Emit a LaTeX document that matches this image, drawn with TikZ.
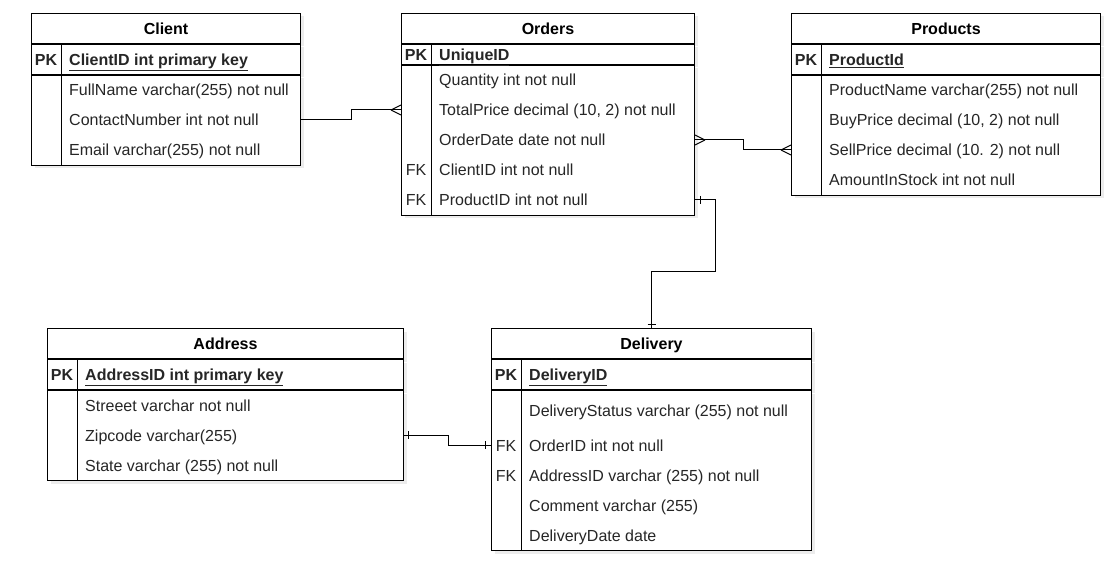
\documentclass[tikz,border=0pt]{standalone}
\usepackage{fontspec}
\setmainfont{Liberation Sans}
\usepackage{tikz}
\usetikzlibrary{positioning, shadows}
\tikzstyle{tbl} = [rectangle, draw=black, fill=white, line width=1pt, inner sep=0pt, anchor=north west, drop shadow={opacity=0.15, shadow xshift=3pt, shadow yshift=-3pt}]
\tikzstyle{tbltitle} = [tbl, minimum height=30pt, font=\bfseries, text height=13.5pt, text depth=1.5pt]
\tikzstyle{keytxt} = [inner sep=0pt, text=black!85, text height=13.5pt, text depth=1.5pt]
\tikzstyle{fieldtxt} = [anchor=west, inner xsep=8pt, inner ysep=0pt, text=black!85, text height=13.5pt, text depth=1.5pt]
\tikzstyle{link} = [line width=1pt]

\begin{document}
\fontsize{16}{19}\selectfont
\begin{tikzpicture}[x=1pt, y=-1pt]
\useasboundingbox (0,0) rectangle (1113,561);

% Client
\node (cliT) [tbltitle, minimum width=269pt] at (31,13) {Client};
\node (cliPK) [tbl, minimum width=269pt, minimum height=30pt, below=0pt of cliT] {};
\node (cli) [tbl, minimum width=269pt, minimum height=90pt, below=0pt of cliPK] {};
\draw [link] ([xshift=30pt]cliPK.north west) -- ([xshift=30pt]cli.south west);
\node [keytxt] at ([xshift=15pt]cliPK.west) {\textbf{PK}};
\node [fieldtxt] at ([xshift=30pt]cliPK.west) {\underline{\textbf{ClientID int primary key}}};
\foreach \f [count=\i] in {FullName varchar(255) not null, ContactNumber int not null, Email varchar(255) not null}
  \node (cli\i) [fieldtxt] at ([xshift=30pt, yshift={15pt-30pt*\i}]cli.north west) {\f};

% Orders
\node (ordT) [tbltitle, minimum width=293pt] at (401,13) {Orders};
\node (ordPK) [tbl, minimum width=293pt, minimum height=20pt, below=0pt of ordT] {};
\node (ord) [tbl, minimum width=293pt, minimum height=150pt, below=0pt of ordPK] {};
\draw [link] ([xshift=30pt]ordPK.north west) -- ([xshift=30pt]ord.south west);
\node [keytxt] at ([xshift=15pt]ordPK.west) {\textbf{PK}};
\node [fieldtxt] at ([xshift=30pt]ordPK.west) {\underline{\textbf{UniqueID}}};
\foreach \f [count=\i] in {Quantity int not null, {TotalPrice decimal (10, 2) not null}, OrderDate date not null, ClientID int not null, ProductID int not null}
  \node (ord\i) [fieldtxt] at ([xshift=30pt, yshift={15pt-30pt*\i}]ord.north west) {\f};
\node [keytxt] at ([xshift=-15pt]ord4.west) {FK};
\node [keytxt] at ([xshift=-15pt]ord5.west) {FK};

% Products
\node (proT) [tbltitle, minimum width=309pt] at (791,13) {Products};
\node (proPK) [tbl, minimum width=309pt, minimum height=30pt, below=0pt of proT] {};
\node (pro) [tbl, minimum width=309pt, minimum height=120pt, below=0pt of proPK] {};
\draw [link] ([xshift=30pt]proPK.north west) -- ([xshift=30pt]pro.south west);
\node [keytxt] at ([xshift=15pt]proPK.west) {\textbf{PK}};
\node [fieldtxt] at ([xshift=30pt]proPK.west) {\underline{\textbf{ProductId}}};
\foreach \f [count=\i] in {ProductName varchar(255) not null, {BuyPrice decimal (10, 2) not null}, SellPrice decimal (10. 2) not null, AmountInStock int not null}
  \node (pro\i) [fieldtxt] at ([xshift=30pt, yshift={15pt-30pt*\i}]pro.north west) {\f};

% Address
\node (adrT) [tbltitle, minimum width=356pt] at (47,328) {Address};
\node (adrPK) [tbl, minimum width=356pt, minimum height=30pt, below=0pt of adrT] {};
\node (adr) [tbl, minimum width=356pt, minimum height=90pt, below=0pt of adrPK] {};
\draw [link] ([xshift=30pt]adrPK.north west) -- ([xshift=30pt]adr.south west);
\node [keytxt] at ([xshift=15pt]adrPK.west) {\textbf{PK}};
\node [fieldtxt] at ([xshift=30pt]adrPK.west) {\underline{\textbf{AddressID int primary key}}};
\foreach \f [count=\i] in {Streeet varchar not null, Zipcode varchar(255), State varchar (255) not null}
  \node (adr\i) [fieldtxt] at ([xshift=30pt, yshift={15pt-30pt*\i}]adr.north west) {\f};

% Delivery
\node (delT) [tbltitle, minimum width=320pt] at (491,328) {Delivery};
\node (delPK) [tbl, minimum width=320pt, minimum height=30pt, below=0pt of delT] {};
\node (del) [tbl, minimum width=320pt, minimum height=160pt, below=0pt of delPK] {};
\draw [link] ([xshift=30pt]delPK.north west) -- ([xshift=30pt]del.south west);
\node [keytxt] at ([xshift=15pt]delPK.west) {\textbf{PK}};
\node [fieldtxt] at ([xshift=30pt]delPK.west) {\underline{\textbf{DeliveryID}}};
\foreach \f/\y [count=\i] in {DeliveryStatus varchar (255) not null/20, OrderID int not null/55, AddressID varchar (255) not null/85, Comment varchar (255)/115, DeliveryDate date/145}
  \node (del\i) [fieldtxt] at ([xshift=30pt, yshift=-\y pt]del.north west) {\f};
\node [keytxt] at ([xshift=-15pt]del2.west) {FK};
\node [keytxt] at ([xshift=-15pt]del3.west) {FK};

% relations
\draw [link] (cli2 -| cli.east) -- ++(50,0) |- (ord2 -| ord.west);
\draw [link] (ord2 -| ord.west) ++(-10,0) -- ++(10,-5) ++(-10,5) -- ++(10,5);

\draw [link] (ord3 -| ord.east) -- ++(48,0) |- (pro3 -| pro.west);
\draw [link] (ord3 -| ord.east) ++(10,0) -- ++(-10,-5) ++(10,5) -- ++(-10,5);
\draw [link] (pro3 -| pro.west) ++(-10,0) -- ++(10,-5) ++(-10,5) -- ++(10,5);

\draw [link] (ord5 -| ord.east) -- ++(20,0) -- ++(0,72) -| (delT.north);
\draw [link] (ord5 -| ord.east) ++(5,-4) -- ++(0,8);
\draw [link] (delT.north) ++(-4,-4) -- ++(8,0);

\draw [link] (adr2 -| adr.east) -- ++(44,0) |- (del2 -| del.west);
\draw [link] (adr2 -| adr.east) ++(4,-4) -- ++(0,8);
\draw [link] (del2 -| del.west) ++(-6,-4) -- ++(0,8);
\end{tikzpicture}
\end{document}
